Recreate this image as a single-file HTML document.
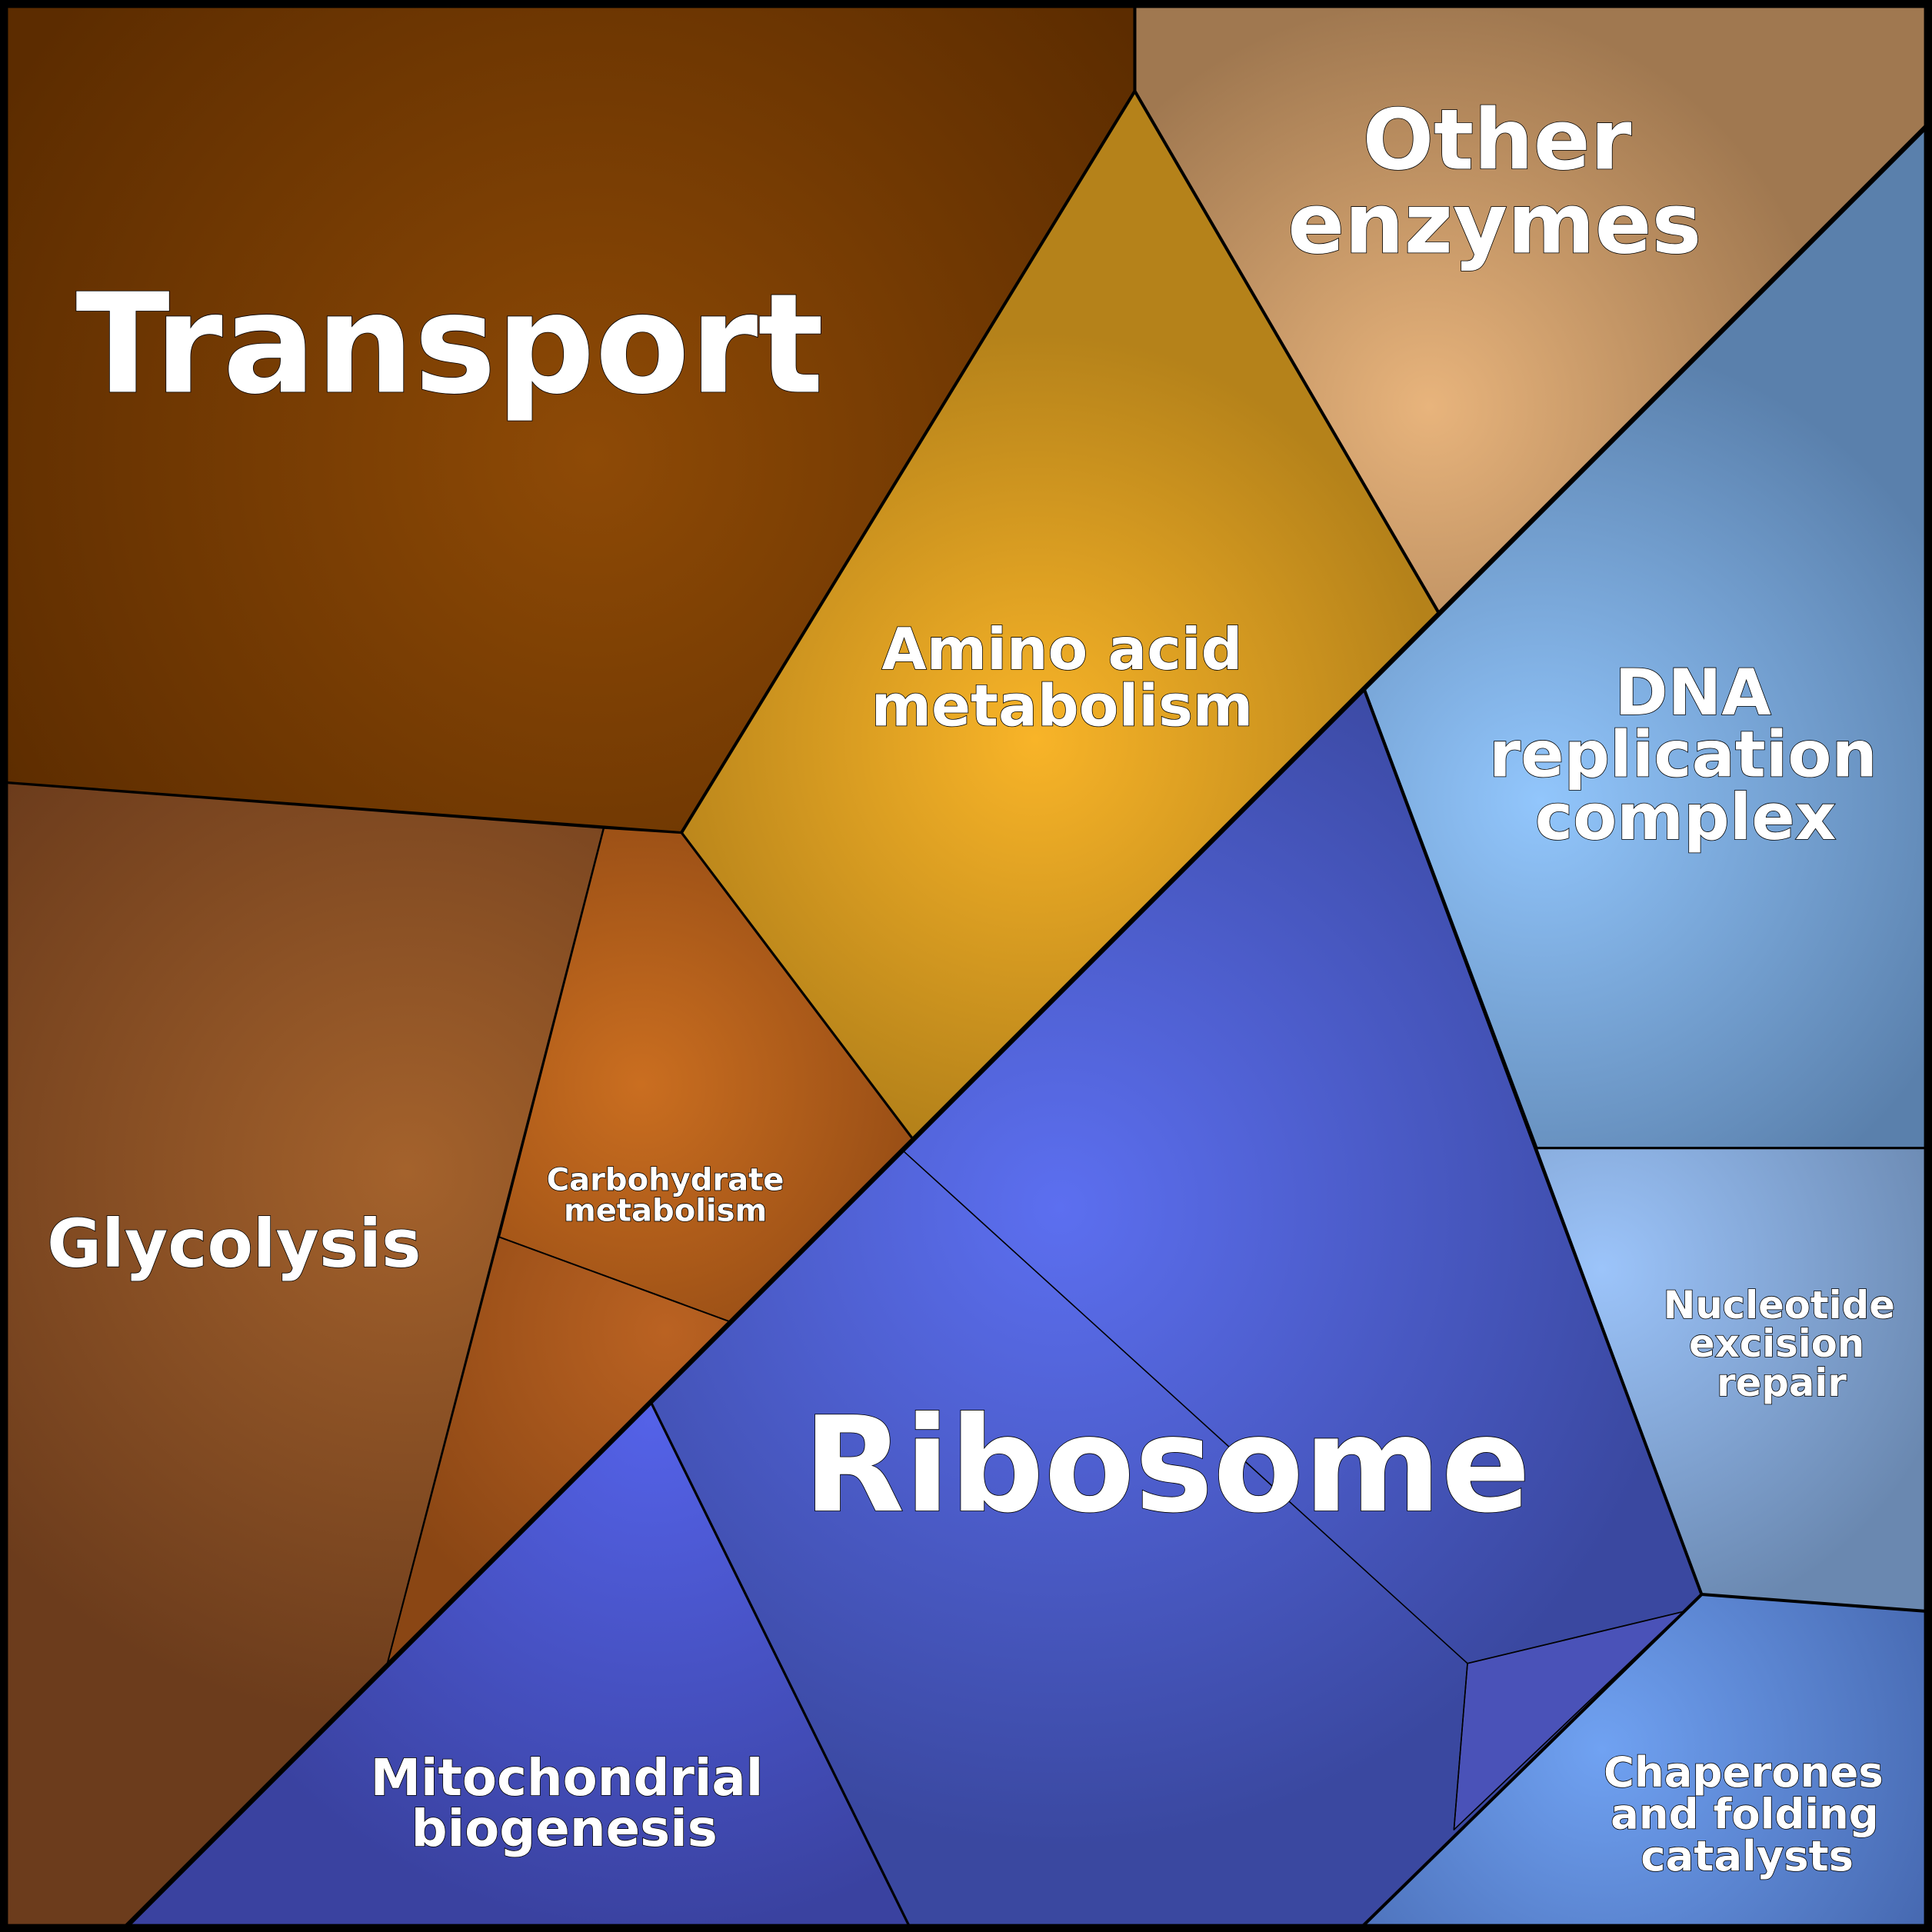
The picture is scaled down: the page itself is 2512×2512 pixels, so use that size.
<!DOCTYPE html>
<html><head><meta charset="utf-8"><style>
html,body{margin:0;padding:0;background:#000;}
svg{display:block;}
text{font-family:"DejaVu Sans","Liberation Sans",sans-serif;font-weight:bold;fill:#fff;stroke:#000;stroke-width:1;text-anchor:middle;paint-order:stroke;}
</style></head><body>
<svg width="2512" height="2512" viewBox="0 0 1568 1568" xmlns="http://www.w3.org/2000/svg">
<defs>
<radialGradient id="gT" gradientUnits="userSpaceOnUse" cx="480" cy="370" r="560"><stop offset="0" stop-color="#8e4a06"/><stop offset="1" stop-color="#5c2c00"/></radialGradient>
<radialGradient id="gO" gradientUnits="userSpaceOnUse" cx="1160" cy="330" r="330"><stop offset="0" stop-color="#e8b47c"/><stop offset="1" stop-color="#a07850"/></radialGradient>
<radialGradient id="gA" gradientUnits="userSpaceOnUse" cx="840" cy="600" r="330"><stop offset="0" stop-color="#f8b428"/><stop offset="1" stop-color="#b5821a"/></radialGradient>
<radialGradient id="gD" gradientUnits="userSpaceOnUse" cx="1250" cy="650" r="380"><stop offset="0" stop-color="#92c6fc"/><stop offset="1" stop-color="#5a80ac"/></radialGradient>
<radialGradient id="gN" gradientUnits="userSpaceOnUse" cx="1300" cy="1030" r="300"><stop offset="0" stop-color="#9cc4fa"/><stop offset="1" stop-color="#6a88b0"/></radialGradient>
<radialGradient id="gC" gradientUnits="userSpaceOnUse" cx="1300" cy="1420" r="300"><stop offset="0" stop-color="#70a2f2"/><stop offset="1" stop-color="#4668b0"/></radialGradient>
<radialGradient id="gR" gradientUnits="userSpaceOnUse" cx="860" cy="980" r="520"><stop offset="0" stop-color="#5c6ff0"/><stop offset="1" stop-color="#3a48a0"/></radialGradient>
<radialGradient id="gM" gradientUnits="userSpaceOnUse" cx="530" cy="1150" r="420"><stop offset="0" stop-color="#5462e8"/><stop offset="1" stop-color="#3a42a0"/></radialGradient>
<radialGradient id="gG" gradientUnits="userSpaceOnUse" cx="330" cy="950" r="450"><stop offset="0" stop-color="#a4622c"/><stop offset="1" stop-color="#6c3c1c"/></radialGradient>
<radialGradient id="gK" gradientUnits="userSpaceOnUse" cx="520" cy="880" r="260"><stop offset="0" stop-color="#ca6e20"/><stop offset="1" stop-color="#924a14"/></radialGradient>
<radialGradient id="gS" gradientUnits="userSpaceOnUse" cx="540" cy="1080" r="260"><stop offset="0" stop-color="#ba6222"/><stop offset="1" stop-color="#8a4614"/></radialGradient>
</defs>
<g stroke="#000" stroke-width="2.5" stroke-linejoin="round">
<polygon fill="url(#gT)" points="0,0 921,0 921,74 553,676 0,635"/>
<polygon fill="url(#gO)" points="921,0 1568,0 1568,98 1168,498 921,74"/>
<polygon fill="url(#gA)" points="921,74 1168,498 741,925 553,676"/>
<polygon fill="url(#gD)" points="1168,498 1568,98 1568,932 1247,932 1107,559"/>
<polygon fill="url(#gN)" points="1247,932 1568,932 1568,1308 1381,1294" stroke-width="1.5"/>
<polygon fill="url(#gC)" points="1381,1294 1568,1308 1568,1568 1101,1568"/>
<polygon fill="url(#gR)" points="1107,559 1381,1294 1101,1568 740,1568 528,1138 741,925"/>
<polygon fill="#4a52b8" points="1191,1350 1366,1308 1180,1485" stroke-width="1"/>
<polygon fill="url(#gM)" points="528,1138 740,1568 98,1568" stroke-width="1.5"/>
<polygon fill="url(#gG)" points="0,635 490,672 314,1352 98,1568 0,1568" stroke-width="1.5"/>
<polygon fill="url(#gK)" points="490,672 553,676 741,925 593,1073 405,1004" stroke-width="1.5"/>
<polygon fill="url(#gS)" points="405,1004 593,1073 314,1352" stroke-width="1"/>
<polyline fill="none" stroke-width="1" points="733,934 1191,1350 1366,1308"/>
<line x1="1191" y1="1350" x2="1180" y2="1485" stroke-width="1"/>
<line x1="1568" y1="98" x2="98" y2="1568" stroke-width="4"/>
<rect x="3" y="3" width="1562" height="1562" fill="none" stroke-width="7"/>
</g>
<text x="365" y="318" font-size="112">Transport</text>
<text x="1215" y="137" font-size="68">Other</text>
<text x="1213" y="205" font-size="68">enzymes</text>
<text x="862" y="543" font-size="47">Amino acid</text>
<text x="862" y="589" font-size="47">metabolism</text>
<text x="1374" y="580" font-size="52">DNA</text>
<text x="1366" y="630" font-size="52">replication</text>
<text x="1368" y="681" font-size="52">complex</text>
<text x="1444" y="1070" font-size="31">Nucleotide</text>
<text x="1442" y="1101" font-size="31">excision</text>
<text x="1446" y="1133" font-size="31">repair</text>
<text x="540" y="966" font-size="25">Carbohydrate</text>
<text x="540" y="991" font-size="25">metabolism</text>
<text x="190" y="1028" font-size="54">Glycolysis</text>
<text x="947" y="1226" font-size="107">Ribosome</text>
<text x="460" y="1457" font-size="41">Mitochondrial</text>
<text x="458" y="1498" font-size="41">biogenesis</text>
<text x="1415" y="1450" font-size="34">Chaperones</text>
<text x="1416" y="1484" font-size="34">and folding</text>
<text x="1418" y="1518" font-size="34">catalysts</text>
</svg>
</body></html>
